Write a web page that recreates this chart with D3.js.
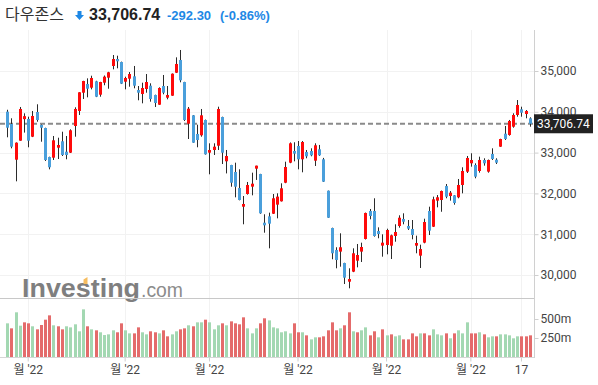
<!DOCTYPE html>
<html>
<head>
<meta charset="utf-8">
<script src="https://cdn.jsdelivr.net/npm/d3@7"></script>
<style>
  body { margin: 0; background: #fff; }
  svg { display: block; font-family: Roboto, "Liberation Sans", Arial, sans-serif; }
</style>
</head>
<body>
<script>
// Daily trading dates (Feb 22 - Aug 19, 2022)
var dates = [
  "02-22","02-23","02-24","02-25","02-28",
  "03-01","03-02","03-03","03-04","03-07","03-08","03-09","03-10","03-11","03-14","03-15","03-16","03-17","03-18","03-21","03-22","03-23","03-24","03-25","03-28","03-29","03-30","03-31",
  "04-01","04-04","04-05","04-06","04-07","04-08","04-11","04-12","04-13","04-14","04-18","04-19","04-20","04-21","04-22","04-25","04-26","04-27","04-28","04-29",
  "05-02","05-03","05-04","05-05","05-06","05-09","05-10","05-11","05-12","05-13","05-16","05-17","05-18","05-19","05-20","05-23","05-24","05-25","05-26","05-27","05-31",
  "06-01","06-02","06-03","06-06","06-07","06-08","06-09","06-10","06-13","06-14","06-15","06-16","06-17","06-21","06-22","06-23","06-24","06-27","06-28","06-29","06-30",
  "07-01","07-05","07-06","07-07","07-08","07-11","07-12","07-13","07-14","07-15","07-18","07-19","07-20","07-21","07-22","07-25","07-26","07-27","07-28","07-29",
  "08-01","08-02","08-03","08-04","08-05","08-08","08-09","08-10","08-11","08-12","08-15","08-16","08-17","08-18","08-19"
];

var opens = [
  34003,33701,32826,33292,33820, 33824,33390,33995,33676,33603,32892,32875,33120,33277,33022,32998,33652,34020,34468,34681,34591,34747,34419,34713,34836,35123,35294,35220,
  34738,34811,34870,34534,34436,34559,34640,34412,34174,34632,34346,34395,34958,35270,34730,33708,33914,33456,33424,33799,
  32998,33064,33169,33872,32787,32696,32525,32132,31674,31985,32165,32606,32475,31282,31438,31502,31724,31806,32262,32753,33039,
  33162,32836,33015,33039,32802,33081,32836,32066,31152,30613,30573,30294,29836,30082,30351,30573,30883,31569,31569,31078,30720,
  30735,30718,30956,31201,31373,31201,31127,30719,30474,30793,31569,31184,31822,31838,32181,31936,31953,31904,32206,32532,
  32738,32696,32549,32819,32533,32966,32826,33145,33463,33432,33635,33922,34061,33946,33840
];
var highs = [
  34050,33841,33250,34118,33963, 33880,34020,34184,33690,33610,32900,33407,33365,33512,33407,33571,34110,34480,34760,34820,34885,34760,34735,34890,34980,35392,35375,35230,
  34860,34975,35123,34632,34713,34926,34698,34420,34600,34902,34632,34940,35335,35515,34735,34118,33920,33684,34069,33810,
  33228,33228,34125,33880,33064,32700,32753,32590,31936,32280,32508,32680,32480,31488,31528,31985,32002,32247,32777,33250,33253,
  33284,33284,33064,33105,33228,33188,32870,32070,31160,30680,31022,30300,30164,30654,30760,30792,31530,31618,31880,31168,30997,
  31135,30990,31243,31463,31512,31348,31348,30964,30743,31380,31674,31920,31960,32070,32230,32059,31960,32353,32640,32917,
  32983,32737,32900,32860,32830,33105,32860,33340,33652,33800,33963,34289,34125,34044,33865
];
var lows = [
  33375,33105,32296,33290,33490, 33130,33380,33757,33267,32794,32590,32819,32843,32917,32836,32990,33390,33922,34314,34355,34550,34360,34370,34650,34566,35041,35066,34680,
  34551,34615,34576,34282,34208,34468,34248,34118,34170,34429,34306,34390,34950,34723,33775,33333,33240,33130,33390,32950,
  32468,32941,33064,32720,32490,32164,31904,31830,31243,31970,31953,32330,31500,31037,30654,31495,31389,31800,32250,32740,32786,
  32590,32517,32860,32910,32672,32920,32280,31400,30385,30164,30204,29779,29674,30070,30188,30319,30870,31365,30940,30900,30449,
  30507,30392,30816,31160,31243,31103,30875,30532,30172,30777,30980,31176,31659,31550,31880,31822,31723,31880,32002,32500,
  32655,32370,32508,32680,32508,32819,32720,33140,33309,33414,33610,33880,33880,33840,33635
];
var closes = [
  33610,33145,33243,34069,33893, 33292,33897,33799,33610,32819,32640,33301,33186,32941,32941,33547,34069,34478,34755,34566,34828,34370,34730,34861,34968,35294,35238,34689,
  34828,34926,34640,34468,34583,34730,34314,34216,34583,34468,34412,34934,35172,34772,33799,34076,33243,33309,33914,32958,
  33064,33145,34069,32997,32917,32262,32164,31838,31740,32206,32238,32680,31512,31218,31258,31880,31921,32125,32647,33228,32974,
  32836,33260,32909,32934,33179,32934,32287,31404,30532,30368,30680,29934,29902,30532,30490,30686,31520,31446,30956,31005,30792,
  31103,30973,31054,31404,31306,31136,30980,30784,30637,31299,31087,31855,31905,32059,31919,32018,31765,32206,32549,32868,
  32819,32410,32819,32738,32819,32843,32753,33333,33333,33775,33922,34167,33978,34020,33706.74
];

// Volume in millions, and bar direction (1 = green, -1 = red)
var volume = [
  443,377,588,412,456, 443,404,364,421,491,548,417,404,364,404,390,430,338,627,404,364,351,325,289,298,351,325,443,
  351,311,311,390,325,298,338,325,311,351,272,298,338,364,377,417,404,456,456,491,
  456,364,417,443,417,469,443,430,522,377,311,377,443,509,482,390,377,325,338,311,443,
  325,325,285,232,259,259,272,351,456,351,377,417,588,338,325,351,390,285,338,259,364,
  285,298,272,285,232,232,311,272,311,311,285,364,298,285,311,246,311,351,311,456,
  311,311,325,298,259,272,272,298,298,285,246,272,272,272,285
];
var volDir = [
  1,-1,1,1,-1, -1,1,-1,-1,-1,-1,1,-1,-1,1,1,1,1,1,-1,1,-1,1,1,1,1,-1,-1,
  1,1,-1,-1,1,1,-1,-1,1,-1,-1,1,1,-1,-1,1,-1,1,1,-1,
  1,1,1,-1,1,-1,-1,-1,-1,1,1,1,-1,-1,1,1,1,1,1,1,-1,
  -1,1,-1,1,1,-1,-1,-1,-1,-1,1,-1,-1,1,-1,1,1,-1,-1,1,-1,
  1,-1,1,1,-1,-1,-1,-1,1,-1,-1,1,1,1,-1,1,-1,1,1,1,
  -1,-1,1,-1,1,1,-1,1,1,1,1,1,-1,-1,-1
];

var tickDates = ["03-01","04-01","05-02","06-01","07-01","08-01","08-17"];
var tickLabels = ["월 '22","월 '22","월 '22","월 '22","월 '22","월 '22","17"];
var priceTicks = [30000, 31000, 32000, 33000, 34000, 35000];
var volTicks = [250, 500];
var lastPrice = 33706.74;
var change = "-292.30";
var changePct = "(-0.86%)";

var width = 598, height = 385;
var plotRight = 534;

var svg = d3.select("body").append("svg")
    .attr("width", width)
    .attr("height", height);

// Scales
var x = d3.scaleBand().domain(dates).range([5, 532]);
var cx = function(d) { return x(d) + x.bandwidth() / 2; };
var y = d3.scaleLinear().domain([30000, 35000]).range([275, 71]);
var yv = d3.scaleLinear().domain([0, 500]).range([357, 319]);

var upColor = "#ff0a0a", downColor = "#4a9fdb";
var volGreen = "#a3d8b2", volRed = "#e46b6b";

// Grid lines
svg.append("g").selectAll("line")
    .data(priceTicks).enter().append("line")
    .attr("x1", 0).attr("x2", plotRight)
    .attr("y1", function(d) { return Math.round(y(d)) + 0.5; })
    .attr("y2", function(d) { return Math.round(y(d)) + 0.5; })
    .attr("stroke", "#f2f2f2");

svg.append("g").selectAll("line")
    .data(tickDates).enter().append("line")
    .attr("x1", function(d) { return Math.round(cx(d)) + 0.5; })
    .attr("x2", function(d) { return Math.round(cx(d)) + 0.5; })
    .attr("y1", 30).attr("y2", 357)
    .attr("stroke", "#f2f2f2");

// Investing.com watermark
var wm = svg.append("g");
wm.append("text")
    .attr("x", 22).attr("y", 297)
    .attr("font-family", "'Liberation Sans', Arial, sans-serif")
    .attr("font-size", 26).attr("font-weight", "bold")
    .attr("textLength", 118).attr("lengthAdjust", "spacingAndGlyphs")
    .attr("fill", "#7f7f7f")
    .text("Investing");
wm.append("polygon")
    .attr("points", "83.5,284 83.5,279.5 87.5,277 87.5,284")
    .attr("fill", "#f6bd60");
wm.append("text")
    .attr("x", 141).attr("y", 297)
    .attr("font-family", "'Liberation Sans', Arial, sans-serif")
    .attr("font-size", 20)
    .attr("textLength", 42).attr("lengthAdjust", "spacingAndGlyphs")
    .attr("fill", "#8c8c8c")
    .text(".com");

// Panel separators
svg.append("line")
    .attr("x1", 0).attr("x2", plotRight).attr("y1", 298.5).attr("y2", 298.5)
    .attr("stroke", "#c8c8c8");
svg.append("line")
    .attr("x1", 0).attr("x2", plotRight).attr("y1", 357.5).attr("y2", 357.5)
    .attr("stroke", "#d6d6d6");

// Last price dashed line
svg.append("line")
    .attr("x1", 0).attr("x2", plotRight)
    .attr("y1", y(lastPrice)).attr("y2", y(lastPrice))
    .attr("stroke", "#8a8a8a").attr("stroke-width", 2)
    .attr("stroke-dasharray", "5,3");

// Candles
var candles = svg.append("g").selectAll("g")
    .data(dates).enter().append("g");

candles.append("line")
    .attr("x1", function(d) { return Math.round(cx(d)) + 0.5; })
    .attr("x2", function(d) { return Math.round(cx(d)) + 0.5; })
    .attr("y1", function(d, i) { return y(highs[i]); })
    .attr("y2", function(d, i) { return y(lows[i]); })
    .attr("stroke", "#2b2b2b");

candles.append("rect")
    .attr("x", function(d) { return Math.round(cx(d)) - 1; })
    .attr("width", 3)
    .attr("y", function(d, i) { return y(Math.max(opens[i], closes[i])); })
    .attr("height", function(d, i) { return Math.max(2, Math.abs(y(opens[i]) - y(closes[i]))); })
    .attr("fill", function(d, i) { return closes[i] >= opens[i] ? upColor : downColor; });

// Volume bars
svg.append("g").selectAll("rect")
    .data(dates).enter().append("rect")
    .attr("x", function(d) { return Math.round(cx(d)) - 1; })
    .attr("width", 3)
    .attr("y", function(d, i) { return yv(volume[i]); })
    .attr("height", function(d, i) { return yv(0) - yv(volume[i]); })
    .attr("fill", function(d, i) { return volDir[i] > 0 ? volGreen : volRed; });

// Right axis line
svg.append("line")
    .attr("x1", plotRight + 0.5).attr("x2", plotRight + 0.5)
    .attr("y1", 30).attr("y2", 358)
    .attr("stroke", "#d0d0d0");

// Price axis
var yAxis = svg.append("g")
    .attr("transform", "translate(" + (plotRight + 0.5) + ",0)")
    .call(d3.axisRight(y).tickValues(priceTicks).tickSize(4).tickPadding(2).tickFormat(d3.format(",")));
yAxis.select(".domain").remove();

// Volume axis
var vAxis = svg.append("g")
    .attr("transform", "translate(" + (plotRight + 0.5) + ",0)")
    .call(d3.axisRight(yv).tickValues(volTicks).tickSize(4).tickPadding(2).tickFormat(function(d) { return d + "m"; }));
vAxis.select(".domain").remove();

// Date axis
var xAxis = svg.append("g")
    .attr("transform", "translate(0,357.5)")
    .call(d3.axisBottom(x).tickValues(tickDates).tickSize(4).tickPadding(4)
        .tickFormat(function(d, i) { return tickLabels[i]; }));
xAxis.select(".domain").remove();

[yAxis, vAxis, xAxis].forEach(function(a) {
    a.selectAll("line").attr("stroke", "#cfcfcf");
    a.selectAll("text")
        .attr("fill", "#444")
        .attr("font-size", 12)
        .attr("font-family", "Roboto, 'Noto Sans CJK KR', sans-serif");
});

// Last price label box
svg.append("rect")
    .attr("x", plotRight).attr("y", y(lastPrice) - 9.5)
    .attr("width", 59).attr("height", 19)
    .attr("fill", "#222");
svg.append("text")
    .attr("x", plotRight + 3).attr("y", y(lastPrice) + 4.5)
    .attr("font-size", 12).attr("fill", "#fff")
    .attr("font-family", "Roboto, sans-serif")
    .text(d3.format(",.2f")(lastPrice));

// Header
var head = svg.append("g");
head.append("text")
    .attr("x", 5).attr("y", 20)
    .attr("font-family", "'Noto Sans CJK KR', sans-serif")
    .attr("font-size", 16).attr("fill", "#333")
    .text("다우존스");
head.append("path")
    .attr("d", "M77.5,11 H81.5 V15 H84 L79.5,20 L75,15 H77.5 Z")
    .attr("fill", "#1e88e5");
head.append("text")
    .attr("x", 89).attr("y", 20)
    .attr("font-family", "'Liberation Sans', Arial, sans-serif")
    .attr("font-size", 16).attr("font-weight", "bold").attr("fill", "#222")
    .text(d3.format(",.2f")(lastPrice));
head.append("text")
    .attr("x", 167).attr("y", 20)
    .attr("font-family", "'Liberation Sans', Arial, sans-serif")
    .attr("font-size", 13).attr("font-weight", "bold").attr("fill", "#1e88e5")
    .text(change);
head.append("text")
    .attr("x", 220).attr("y", 20)
    .attr("font-family", "'Liberation Sans', Arial, sans-serif")
    .attr("font-size", 13).attr("font-weight", "bold").attr("fill", "#1e88e5")
    .text(changePct);
</script>
</body>
</html>
